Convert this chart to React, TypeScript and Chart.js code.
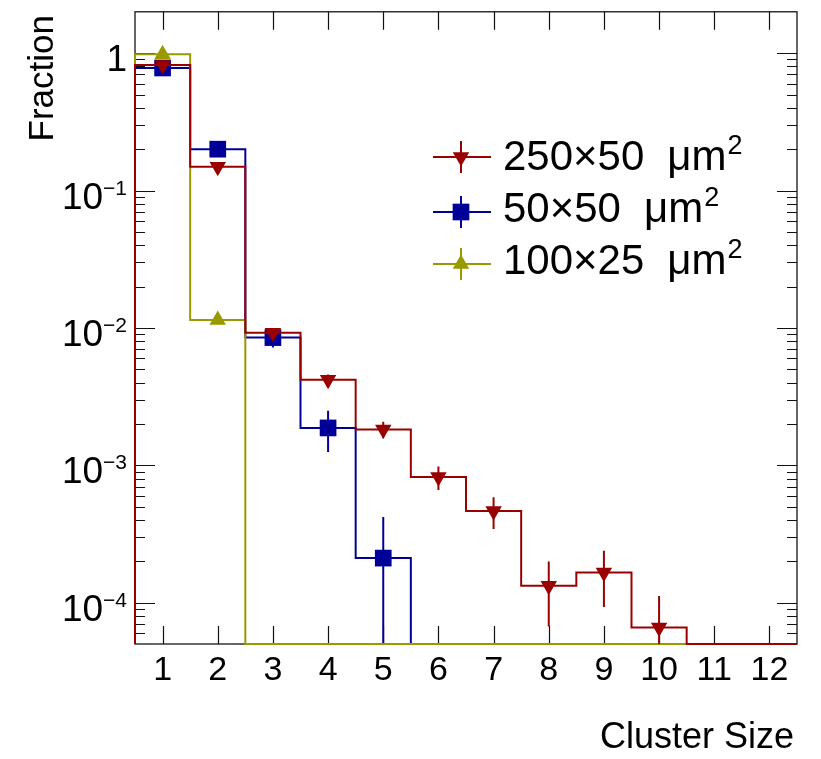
import React, { useEffect, useRef } from 'react';
import { Chart, registerables } from 'chart.js';

Chart.register(...registerables);

// ---------------- data ----------------
const BIN_EDGES = [0.5, 1.5, 2.5, 3.5, 4.5, 5.5, 6.5, 7.5, 8.5, 9.5, 10.5, 11.5, 12.5];
const BIN_CENTERS = [1, 2, 3, 4, 5, 6, 7, 8, 9, 10, 11, 12];

const SERIES_LABELS = ['250×50', '50×50', '100×25'];
const SERIES_UNIT = 'μm';
const SERIES_UNIT_SUP = '2';

const RED_VALUES = [0.82, 0.149, 0.0092, 0.0042, 0.00182, 0.00082, 0.000464, 0.000133, 0.000166, 0.000066, 0, 0];
const RED_ERRORS = [0.005, 0.0022, 0.00055, 0.00037, 0.00025, 0.00016, 0.00012, 0.000066, 0.000073, 0.000046, 0, 0];

const BLUE_VALUES = [0.78, 0.2, 0.0085, 0.00187, 0.000211, 0, 0, 0, 0, 0, 0, 0];
const BLUE_ERRORS = [0.013, 0.0065, 0.0013, 0.00062, 0.00021, 0, 0, 0, 0, 0, 0, 0];

const YELLOW_VALUES = [0.98, 0.0114, 0, 0, 0, 0, 0, 0, 0, 0, 0, 0];
const YELLOW_ERRORS = [0.004, 0.0005, 0, 0, 0, 0, 0, 0, 0, 0, 0, 0];

const X_TICKS = [1, 2, 3, 4, 5, 6, 7, 8, 9, 10, 11, 12];
const X_TICK_LABELS = ['1', '2', '3', '4', '5', '6', '7', '8', '9', '10', '11', '12'];
const Y_DECADES = [1, 0.1, 0.01, 0.001, 0.0001];
const Y_DECADE_BASES = ['1', '10', '10', '10', '10'];
const Y_DECADE_EXPONENTS = ['', '−1', '−2', '−3', '−4'];
const Y_MINOR_STEPS = [2, 3, 4, 5, 6, 7, 8, 9];
const Y_MINOR_DECADES = [1, 0.1, 0.01, 0.001, 0.0001, 0.00001];

const X_TITLE = 'Cluster Size';
const Y_TITLE = 'Fraction';

const X_MIN = 0.5;
const X_MAX = 12.5;
const Y_MIN = 5e-5;
const Y_MAX = 2;

// ---------------- styles ----------------
const FONT_FAMILY = '"Liberation Sans", Arial, Helvetica, sans-serif';
const X_LABEL_SIZE = 34;
const Y_LABEL_SIZE = 37;
const Y_SUP_SIZE = 21;
const TITLE_SIZE = 36;
const LEGEND_SIZE = 42;
const LEGEND_SUP_SIZE = 27;
const RED = '#990000';
const BLUE = '#000099';
const YELLOW = '#999900';

type SeriesStyle = {
  color: string;
  pointStyle: string;
  rotation: number;
  radius: number;
};

const SERIES_STYLES: SeriesStyle[] = [
  { color: RED, pointStyle: 'triangle', rotation: 180, radius: 9.5 },
  { color: BLUE, pointStyle: 'rect', rotation: 0, radius: 11.8 },
  { color: YELLOW, pointStyle: 'triangle', rotation: 0, radius: 9.5 },
];

const SERIES_VALUES = [RED_VALUES, BLUE_VALUES, YELLOW_VALUES];
const SERIES_ERRORS = [RED_ERRORS, BLUE_ERRORS, YELLOW_ERRORS];
// drawing order (higher drawn first): blue, yellow, red
const SERIES_ORDER = [[2, 1], [6, 5], [4, 3]];

const LEGEND_ROWS = [157, 212, 264];
const LEGEND_BASELINES = [170, 222, 274];

function stepPoints(values: number[]) {
  const pts: { x: number; y: number }[] = [{ x: BIN_EDGES[0], y: Y_MIN }];
  values.forEach((v, i) => {
    const y = v > 0 ? v : Y_MIN;
    pts.push({ x: BIN_EDGES[i], y });
    pts.push({ x: BIN_EDGES[i + 1], y });
  });
  pts.push({ x: BIN_EDGES[BIN_EDGES.length - 1], y: Y_MIN });
  return pts;
}

function markerPoints(values: number[]) {
  return BIN_CENTERS.map((c, i) => ({ x: c, y: values[i] > 0 ? values[i] : null }));
}

function drawMarker(ctx: CanvasRenderingContext2D, style: SeriesStyle, x: number, y: number) {
  ctx.save();
  ctx.fillStyle = style.color;
  ctx.beginPath();
  if (style.pointStyle === 'rect') {
    const h = style.radius * Math.SQRT1_2;
    ctx.rect(x - h, y - h, 2 * h, 2 * h);
  } else {
    let rad = (style.rotation * Math.PI) / 180;
    const r = style.radius;
    ctx.moveTo(x + Math.sin(rad) * r, y - Math.cos(rad) * r);
    rad += (2 * Math.PI) / 3;
    ctx.lineTo(x + Math.sin(rad) * r, y - Math.cos(rad) * r);
    rad += (2 * Math.PI) / 3;
    ctx.lineTo(x + Math.sin(rad) * r, y - Math.cos(rad) * r);
    ctx.closePath();
  }
  ctx.fill();
  ctx.restore();
}

const framePlugin = {
  id: 'rootFrame',
  beforeDatasetsDraw(chart: any) {
    const { ctx, chartArea: a, scales } = chart;
    const xs = scales.x;
    const ys = scales.y;
    ctx.save();
    ctx.strokeStyle = '#000';
    ctx.lineWidth = 1.2;
    ctx.strokeRect(a.left, a.top, a.right - a.left, a.bottom - a.top);

    ctx.lineWidth = 1.2;
    ctx.strokeStyle = '#111';
    ctx.beginPath();
    X_TICKS.forEach((t) => {
      const px = Math.round(xs.getPixelForValue(t)) + 0.5;
      ctx.moveTo(px, a.bottom);
      ctx.lineTo(px, a.bottom - 18);
      ctx.moveTo(px, a.top);
      ctx.lineTo(px, a.top + 18);
    });
    Y_DECADES.forEach((d) => {
      const py = Math.round(ys.getPixelForValue(d)) + 0.5;
      ctx.moveTo(a.left, py);
      ctx.lineTo(a.left + 20, py);
      ctx.moveTo(a.right, py);
      ctx.lineTo(a.right - 20, py);
    });
    Y_MINOR_DECADES.forEach((d) => {
      Y_MINOR_STEPS.forEach((m) => {
        const v = m * d;
        if (v <= Y_MIN || v >= Y_MAX) return;
        const py = Math.round(ys.getPixelForValue(v)) + 0.5;
        ctx.moveTo(a.left, py);
        ctx.lineTo(a.left + 10, py);
        ctx.moveTo(a.right, py);
        ctx.lineTo(a.right - 10, py);
      });
    });
    ctx.stroke();

    // tick labels
    ctx.fillStyle = '#000';
    ctx.font = `${X_LABEL_SIZE}px ${FONT_FAMILY}`;
    ctx.textAlign = 'center';
    ctx.textBaseline = 'alphabetic';
    X_TICKS.forEach((t, i) => {
      ctx.fillText(X_TICK_LABELS[i], xs.getPixelForValue(t), a.bottom + 36);
    });

    Y_DECADES.forEach((d, i) => {
      const py = ys.getPixelForValue(d);
      const right = a.left - 8;
      ctx.font = `${Y_SUP_SIZE}px ${FONT_FAMILY}`;
      const supW = Y_DECADE_EXPONENTS[i] ? ctx.measureText(Y_DECADE_EXPONENTS[i]).width : 0;
      ctx.font = `${Y_LABEL_SIZE}px ${FONT_FAMILY}`;
      ctx.textAlign = 'right';
      ctx.fillText(Y_DECADE_BASES[i], right - supW, py + 18);
      if (Y_DECADE_EXPONENTS[i]) {
        ctx.font = `${Y_SUP_SIZE}px ${FONT_FAMILY}`;
        ctx.textAlign = 'left';
        ctx.fillText(Y_DECADE_EXPONENTS[i], right - supW, py + 4);
      }
    });

    // titles
    ctx.font = `${TITLE_SIZE}px ${FONT_FAMILY}`;
    ctx.textAlign = 'right';
    ctx.fillText(X_TITLE, a.right - 3, a.bottom + 104);
    ctx.save();
    ctx.font = `${35}px ${FONT_FAMILY}`;
    ctx.translate(53, 15);
    ctx.rotate(-Math.PI / 2);
    ctx.textAlign = 'right';
    ctx.fillText(Y_TITLE, 0, 0);
    ctx.restore();
    ctx.restore();
  },
};

const errorPlugin = {
  id: 'errorBars',
  beforeDatasetDraw(chart: any, args: any) {
    const ds = chart.data.datasets[args.index];
    if (!ds.errorValues) return;
    const { ctx, chartArea: a, scales } = chart;
    ctx.save();
    ctx.beginPath();
    ctx.rect(a.left, a.top, a.right - a.left, a.bottom - a.top);
    ctx.clip();
    ctx.strokeStyle = ds.pointBackgroundColor;
    ctx.lineWidth = 2;
    ctx.beginPath();
    ds.binValues.forEach((v: number, i: number) => {
      const e = ds.errorValues[i];
      if (!(v > 0) || !(e > 0)) return;
      const px = scales.x.getPixelForValue(BIN_CENTERS[i]);
      const top = scales.y.getPixelForValue(v + e);
      const bot = scales.y.getPixelForValue(Math.max(v - e, Y_MIN * 0.01));
      ctx.moveTo(px, top);
      ctx.lineTo(px, bot);
    });
    ctx.stroke();
    ctx.restore();
  },
};

const legendPlugin = {
  id: 'rootLegend',
  afterDraw(chart: any) {
    const { ctx } = chart;
    ctx.save();
    SERIES_LABELS.forEach((label, i) => {
      const y = LEGEND_ROWS[i];
      const base = LEGEND_BASELINES[i];
      const st = SERIES_STYLES[i];
      ctx.strokeStyle = st.color;
      ctx.lineWidth = 2;
      ctx.beginPath();
      ctx.moveTo(433, y);
      ctx.lineTo(491, y);
      ctx.moveTo(461, y - 16);
      ctx.lineTo(461, y + 16);
      ctx.stroke();
      drawMarker(ctx, st, 461, y);
      ctx.fillStyle = '#000';
      ctx.font = `${LEGEND_SIZE}px ${FONT_FAMILY}`;
      ctx.textAlign = 'left';
      ctx.textBaseline = 'alphabetic';
      ctx.fillText(label, 503, base);
      const w = ctx.measureText(label).width;
      const ux = 503 + w + 23;
      ctx.fillText(SERIES_UNIT, ux, base);
      const uw = ctx.measureText(SERIES_UNIT).width;
      ctx.font = `${LEGEND_SUP_SIZE}px ${FONT_FAMILY}`;
      ctx.fillText(SERIES_UNIT_SUP, ux + uw + 1, base - 16);
    });
    ctx.restore();
  },
};

export default function App() {
  const canvasRef = useRef<HTMLCanvasElement | null>(null);

  useEffect(() => {
    document.body.style.margin = '0';
    const canvas = canvasRef.current;
    if (!canvas) return;

    const datasets: any[] = [];
    SERIES_VALUES.forEach((values, i) => {
      const st = SERIES_STYLES[i];
      const name = `${SERIES_LABELS[i]} ${SERIES_UNIT}${SERIES_UNIT_SUP}`;
      datasets.push({
        label: name,
        data: stepPoints(values),
        borderColor: st.color,
        borderWidth: 2,
        pointRadius: 0,
        fill: false,
        tension: 0,
        clip: 4,
        order: SERIES_ORDER[i][0],
      });
      datasets.push({
        label: name + ' markers',
        data: markerPoints(values),
        binValues: values,
        errorValues: SERIES_ERRORS[i],
        showLine: false,
        pointStyle: st.pointStyle,
        pointRotation: st.rotation,
        pointRadius: st.radius,
        pointBackgroundColor: st.color,
        pointBorderColor: st.color,
        pointBorderWidth: 0,
        clip: 12,
        order: SERIES_ORDER[i][1],
      });
    });

    const chart = new Chart(canvas, {
      type: 'line',
      data: { datasets },
      options: {
        animation: false,
        responsive: false,
        devicePixelRatio: 1,
        layout: { padding: { left: 135, top: 10, right: 24, bottom: 115 } },
        scales: {
          x: { type: 'linear', min: X_MIN, max: X_MAX, display: false },
          y: { type: 'logarithmic', min: Y_MIN, max: Y_MAX, display: false },
        },
        plugins: {
          legend: { display: false },
          tooltip: { enabled: false },
          title: { display: false },
        },
        events: [],
      },
      plugins: [framePlugin, errorPlugin, legendPlugin],
    } as any);

    return () => {
      chart.destroy();
    };
  }, []);

  return (
    <div style={{ width: 821, height: 759, background: '#fff' }}>
      <canvas ref={canvasRef} width={821} height={759} style={{ display: 'block' }} />
    </div>
  );
}
